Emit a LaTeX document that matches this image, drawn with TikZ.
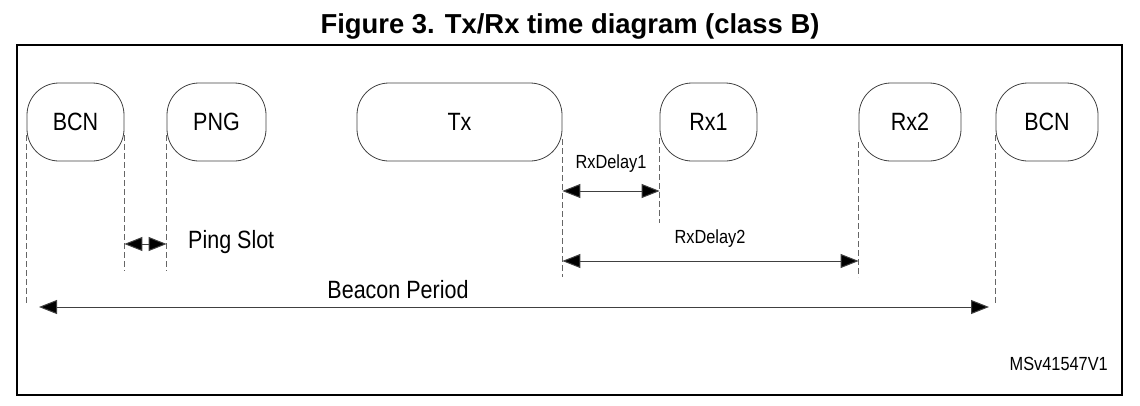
\documentclass[tikz,border=0pt]{standalone}
\usepackage{fontspec}
\setmainfont{Liberation Sans}
\newfontfamily\narrowfont{Liberation Sans}[FakeStretch=0.86]
\usetikzlibrary{arrows.meta}
\begin{document}
\begin{tikzpicture}[x=1pt,y=-1pt,
  slot/.style={draw=black!75, line width=0.8pt, rounded corners=32pt, minimum height=78pt, inner sep=0pt,
    font=\narrowfont\fontsize{25}{30}\selectfont},
  guide/.style={draw=black!60, line width=0.8pt, dash pattern=on 6pt off 3pt},
  dimarrow/.style={draw=black!75, line width=1pt,
    arrows={Triangle[length=18pt,width=14pt,fill=black]-Triangle[length=18pt,width=14pt,fill=black]}},
  biglbl/.style={font=\narrowfont\fontsize{25}{30}\selectfont, inner sep=0pt},
  smalllbl/.style={font=\narrowfont\fontsize{19}{23}\selectfont, inner sep=0pt}]
\useasboundingbox (0,0) rectangle (1140,405);
% title and frame
\node[font=\bfseries\fontsize{27.4}{31}\selectfont, anchor=base, inner sep=0pt] (title) at (570,33) {Figure 3. Tx/Rx time diagram (class B)};
\draw[line width=1.3pt] (17,45) rectangle (1122,395);
% slots
\node[slot, minimum width=97pt] (bcn1) at (75.5,122) {BCN};
\node[slot, minimum width=99pt] (png) at (216.5,122) {PNG};
\node[slot, minimum width=205pt] (tx) at (459.5,122) {Tx};
\node[slot, minimum width=97pt] (rx1) at (708.5,122) {Rx1};
\node[slot, minimum width=102pt] (rx2) at (910,122) {Rx2};
\node[slot, minimum width=102pt] (bcn2) at (1047,122) {BCN};
% guide lines
\draw[guide] ([yshift=-13pt]bcn1.west) -- (bcn1.west |- 0,305);
\draw[guide] ([yshift=-13pt]bcn1.east) -- (bcn1.east |- 0,271);
\draw[guide] ([yshift=-13pt]png.west) -- (png.west |- 0,271);
\draw[guide] ([yshift=-17pt]tx.east) -- (tx.east |- 0,277);
\draw[guide] ([yshift=-16pt]rx1.west) -- (rx1.west |- 0,223);
\draw[guide] ([yshift=-20pt]rx2.west) -- (rx2.west |- 0,277);
\draw[guide] ([yshift=-13pt]bcn2.west) -- (bcn2.west |- 0,305);
% dimension arrows
\coordinate (bpL) at (39,307);
\coordinate (bpR) at (989,307);
\draw[dimarrow] (bcn1.east |- 0,244) -- (png.west |- 0,244);
\draw[dimarrow] (tx.east |- 0,191) -- (rx1.west |- 0,191);
\draw[dimarrow] (tx.east |- 0,261) -- (rx2.west |- 0,261);
\draw[dimarrow] (bpL) -- (bpR);
% labels
\node[biglbl, anchor=base west] (ping) at (188,248) {Ping Slot};
\node[smalllbl, anchor=base] (rxd1) at (611,168) {RxDelay1};
\node[smalllbl, anchor=base] (rxd2) at (710,243) {RxDelay2};
\node[biglbl, anchor=base] (bp) at (398,298) {Beacon Period};
\node[smalllbl, anchor=base east] (ref) at (1108,370) {MSv41547V1};
\end{tikzpicture}
\end{document}
